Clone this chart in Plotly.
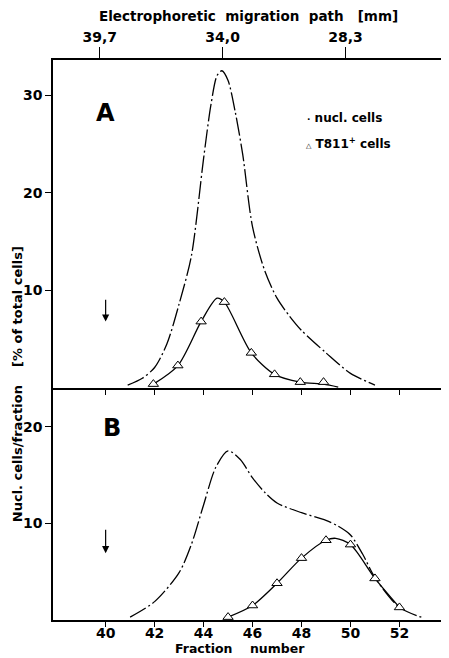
import plotly.graph_objects as go

# Fraction axis ticks and the electrophoretic path (mm) ticks on top
frac_ticks = [40, 42, 44, 46, 48, 50, 52]
mm_ticks = [39.7, 34.0, 28.3]
mm_labels = ['39,7', '34,0', '28,3']

# Panel A: percentage of total cells
a_nucl_x = [40.9, 41.5, 42, 42.5, 43, 43.5, 44, 44.3, 44.55, 44.75, 45, 45.3, 45.6,
            46, 46.5, 47, 47.5, 48, 49, 50, 51]
a_nucl_y = [0.3, 1.0, 2.1, 4.5, 8.6, 13.5, 23.5, 29.0, 32.0, 32.5, 31.5, 28.2, 23.9,
            16.5, 12.0, 9.2, 7.4, 5.9, 3.6, 1.5, 0.3]
a_t811_x = [41.95, 42.95, 43.9, 44.85, 45.95, 46.9, 47.95, 48.9]
a_t811_y = [0.4, 2.3, 6.8, 8.8, 3.6, 1.4, 0.6, 0.6]
a_t811_curve_x = [41.95, 42.95, 43.9, 44.55, 44.85, 45.95, 46.9, 47.95, 48.9, 49.5]
a_t811_curve_y = [0.4, 2.3, 6.8, 9.2, 8.8, 3.6, 1.4, 0.6, 0.4, 0.1]

# Panel B: nucleated cells per fraction
b_nucl_x = [41, 42, 43, 43.5, 44, 44.5, 45, 45.5, 46, 46.5, 47, 48, 49, 49.5, 50,
            50.5, 51, 52, 53]
b_nucl_y = [0.3, 1.9, 4.9, 7.8, 11.9, 15.8, 17.5, 16.6, 14.7, 13.2, 12.1, 11.1, 10.3,
            9.7, 8.8, 6.8, 4.4, 1.3, 0.2]
b_t811_x = [45, 46, 47, 48, 49, 50, 51, 52]
b_t811_y = [0.3, 1.5, 3.8, 6.4, 8.25, 7.8, 4.3, 1.3]
b_t811_curve_x = [45, 46, 47, 48, 49, 49.4, 50, 51, 52]
b_t811_curve_y = [0.3, 1.5, 3.8, 6.4, 8.25, 8.45, 7.8, 4.3, 1.3]

# sample application marks (fraction, arrow tail, arrow head)
arrow_a = (40, 9.2, 6.8)
arrow_b = (40, 9.5, 6.9)

FONT = 'DejaVu Sans'
dashdot = '18px,3px,2px,3px'

fig = go.Figure()

def curve(x, y, xa, ya, dash):
    fig.add_trace(go.Scatter(x=x, y=y, xaxis=xa, yaxis=ya, mode='lines',
                             line=dict(color='black', width=1.3, dash=dash,
                                       shape='spline', smoothing=0.8),
                             showlegend=False, hoverinfo='skip'))

def triangles(x, y, xa, ya):
    fig.add_trace(go.Scatter(x=x, y=y, xaxis=xa, yaxis=ya, mode='markers',
                             marker=dict(symbol='triangle-up', size=9, color='white',
                                         line=dict(color='black', width=1)),
                             showlegend=False, hoverinfo='skip'))

curve(a_nucl_x, a_nucl_y, 'x2', 'y2', dashdot)
curve(a_t811_curve_x, a_t811_curve_y, 'x2', 'y2', 'solid')
triangles(a_t811_x, a_t811_y, 'x2', 'y2')

curve(b_nucl_x, b_nucl_y, 'x', 'y', dashdot)
curve(b_t811_curve_x, b_t811_curve_y, 'x', 'y', 'solid')
triangles(b_t811_x, b_t811_y, 'x', 'y')

# invisible trace to activate the top mm axis
fig.add_trace(go.Scatter(x=[mm_ticks[0]], y=[0], xaxis='x3', yaxis='y2', mode='markers',
                         marker=dict(opacity=0), showlegend=False, hoverinfo='skip'))

tickfont = dict(family=FONT, size=14, color='black', weight='bold')
ax_common = dict(showgrid=False, zeroline=False, showline=True, linecolor='black',
                 linewidth=1.5, ticks='outside', tickcolor='black', tickwidth=1.2,
                 tickfont=tickfont)

B_TOP = 232 / 560

# the page puts the plot 8px in from the top-left corner, so the figure is sized to fit
fig.update_layout(
    width=441, height=650,
    margin=dict(l=45, r=3, t=52, b=38),
    plot_bgcolor='white', paper_bgcolor='white',
    xaxis=dict(ax_common, range=[37.85, 53.82], tickvals=frac_ticks, ticklen=5,
               ticklabelstandoff=-6, anchor='y'),
    xaxis2=dict(ax_common, range=[37.85, 53.82], tickvals=frac_ticks, ticklen=5,
                showticklabels=False, anchor='y2', matches='x'),
    xaxis3=dict(ax_common, range=[41.87, 23.73], tickvals=mm_ticks, ticktext=mm_labels,
                ticklen=11, side='top', overlaying='x2', anchor='y2'),
    yaxis=dict(ax_common, domain=[0, B_TOP], range=[0, 24], tickvals=[10, 20],
               ticklen=6, anchor='x'),
    yaxis2=dict(ax_common, domain=[B_TOP, 1], range=[0, 33.6], tickvals=[10, 20, 30],
                ticklen=6, anchor='x2', mirror=True),
)

ann_font = dict(family=FONT, color='black')

# helpers: screen pixel -> paper fraction (plot area spans x 53..446, y 60..620)
def px_x(px):
    return (px - 53) / 393

def px_y(py):
    return (620 - py) / 560

annotations = [
    dict(text='<b>Electrophoretic  migration  path   [mm]</b>', x=px_x(249), y=px_y(16),
         font=dict(ann_font, size=13.5)),
    dict(text='<b>Fraction    number</b>', x=px_x(241), y=px_y(648),
         font=dict(ann_font, size=12.5)),
    dict(text='<b>Nucl. cells/fraction    [% of total cells]</b>', x=px_x(18), y=px_y(384),
         textangle=-90, font=dict(ann_font, size=13)),
    dict(text='<b>A</b>', x=px_x(106), y=px_y(113), font=dict(ann_font, size=24)),
    dict(text='<b>B</b>', x=px_x(112), y=px_y(428), font=dict(ann_font, size=24)),
    dict(text='<b><span style="font-size:9px">·</span> nucl. cells</b>', x=px_x(306),
         y=px_y(118), xanchor='left', font=dict(ann_font, size=12)),
    dict(text='<b><span style="font-size:7px">△</span> T811<sup>+</sup> cells</b>',
         x=px_x(305), y=px_y(143), xanchor='left', font=dict(ann_font, size=12)),
]
for a in annotations:
    a.setdefault('xref', 'paper')
    a.setdefault('yref', 'paper')
    a.setdefault('showarrow', False)
    a.setdefault('xanchor', 'center')
    a.setdefault('yanchor', 'middle')
    fig.add_annotation(**a)

for (fx, tail, head), xr, yr in [(arrow_a, 'x2', 'y2'), (arrow_b, 'x', 'y')]:
    fig.add_annotation(x=fx, y=head, ax=fx, ay=tail, xref=xr, yref=yr, axref=xr, ayref=yr,
                       text='', showarrow=True, arrowhead=2, arrowsize=1.2,
                       arrowwidth=1.2, arrowcolor='black')

fig.write_html('out.html')
